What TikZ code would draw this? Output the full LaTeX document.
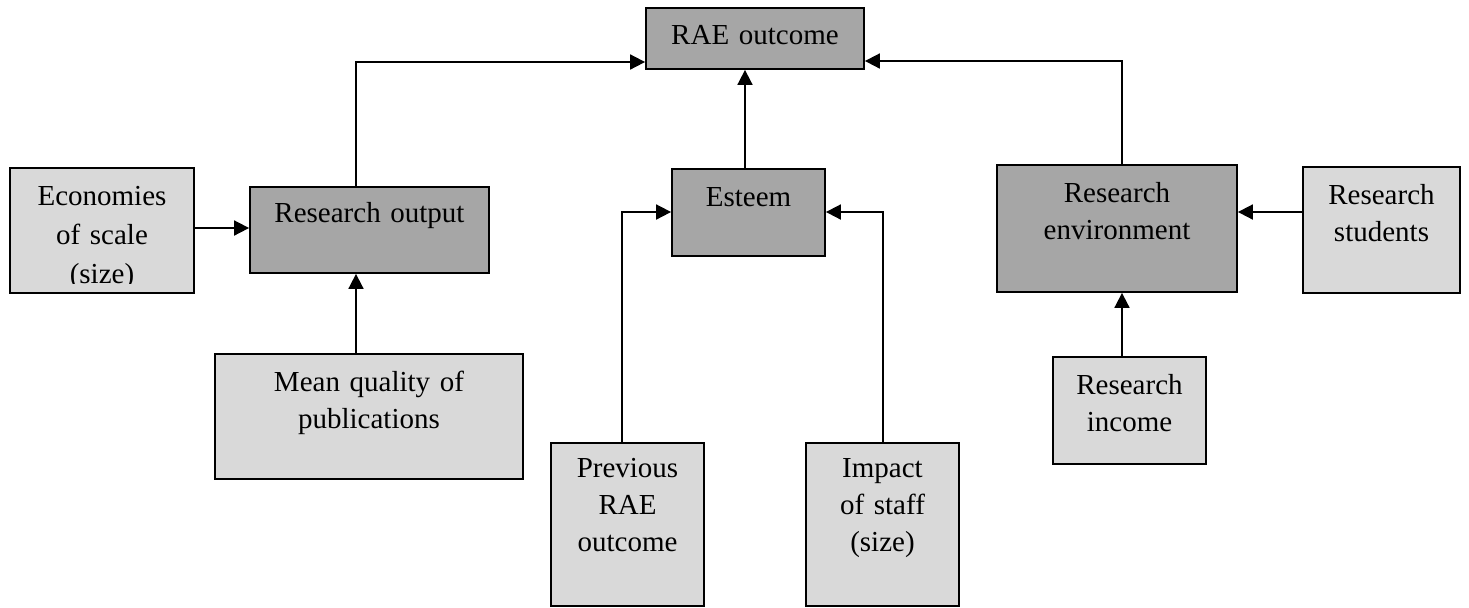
\documentclass[tikz,border=0pt]{standalone}
\usepackage{fontspec}
\setmainfont{Liberation Serif}
\usetikzlibrary{arrows.meta}
\definecolor{darkbox}{RGB}{166,166,166}
\definecolor{lightbox}{RGB}{217,217,217}
\tikzset{
  box/.style={draw=black, line width=0.9pt, inner sep=0pt, rectangle},
  dbox/.style={box, fill=darkbox},
  lbox/.style={box, fill=lightbox},
  lbl/.style={inner sep=0pt, anchor=base, align=center, text width=#1,
    font=\fontsize{14.5}{18.5}\selectfont},
  conn/.style={draw=black, line width=0.9pt, -{Triangle[length=7.5pt,width=7.5pt]}}
}
\begin{document}
\begin{tikzpicture}[x=0.5pt,y=-0.5pt]
\useasboundingbox (0,0) rectangle (1469,607);
% boxes
\node[dbox, minimum width=109pt, minimum height=30.5pt] (rae) at (755,38.5) {};
\node[dbox, minimum width=119.5pt, minimum height=43pt] (ro) at (369.5,230) {};
\node[lbox, minimum width=92pt, minimum height=62.5pt] (eco) at (102,230.5) {};
\node[dbox, minimum width=76.5pt, minimum height=43.5pt] (est) at (748.5,212.5) {};
\node[dbox, minimum width=120pt, minimum height=63.5pt] (renv) at (1117,228.5) {};
\node[lbox, minimum width=78.5pt, minimum height=63pt] (rs) at (1381.5,230) {};
\node[lbox, minimum width=154pt, minimum height=62.5pt] (mq) at (369,416.5) {};
\node[lbox, minimum width=76.5pt, minimum height=81.5pt] (prev) at (627.5,524.5) {};
\node[lbox, minimum width=76.5pt, minimum height=81.5pt] (imp) at (882.5,524.5) {};
\node[lbox, minimum width=76.5pt, minimum height=53.5pt] (ri) at (1129.5,410.5) {};
% texts
\node[lbl=105pt] (t-rae) at ([yshift=-18.5pt]rae.north) {RAE outcome};
\node[lbl=115pt] (t-ro) at ([yshift=-18pt]ro.north) {Research output};
\begin{scope}
\clip (10,168) rectangle (194,283);
\node[lbl=88pt, font=\fontsize{14.5}{19.5}\selectfont] (t-eco) at ([yshift=-19pt]eco.north) {Economies\\of scale\\(size)};
\end{scope}
\node[lbl=72pt] (t-est) at ([yshift=-19pt]est.north) {Esteem};
\node[lbl=116pt] (t-renv) at ([yshift=-19pt]renv.north) {Research\\environment};
\node[lbl=75pt] (t-rs) at ([yshift=-19pt]rs.north) {Research\\students};
\node[lbl=150pt] (t-mq) at ([yshift=-19pt]mq.north) {Mean quality of\\publications};
\node[lbl=72pt] (t-prev) at ([yshift=-17.5pt]prev.north) {Previous\\RAE\\outcome};
\node[lbl=72pt] (t-imp) at ([yshift=-17.5pt]imp.north) {Impact\\of staff\\(size)};
\node[lbl=72pt] (t-ri) at ([yshift=-19pt]ri.north) {Research\\income};
% junction coordinates
\coordinate (jro) at (356,62);
\coordinate (jest) at (745,62);
\coordinate (jrenv) at (1122,61);
\coordinate (jprev) at (622,212);
\coordinate (jimp) at (883,212);
% connectors
\draw[conn] (jro |- ro.north) -- (jro) -- (jro -| rae.west);
\draw[conn] (jest |- est.north) -- (jest |- rae.south);
\draw[conn] (jrenv |- renv.north) -- (jrenv) -- (jrenv -| rae.east);
\draw[conn] (eco.east |- 0,228) -- (ro.west |- 0,228);
\draw[conn] (jro |- mq.north) -- (jro |- ro.south);
\draw[conn] (jprev |- prev.north) -- (jprev) -- (jprev -| est.west);
\draw[conn] (jimp |- imp.north) -- (jimp) -- (jimp -| est.east);
\draw[conn] (rs.west |- 0,212) -- (renv.east |- 0,212);
\draw[conn] (jrenv |- ri.north) -- (jrenv |- renv.south);
\end{tikzpicture}
\end{document}
